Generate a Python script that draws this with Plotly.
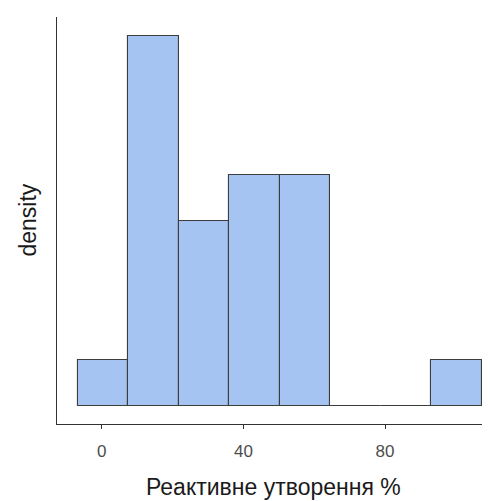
import plotly.graph_objects as go

# Histogram bins
bin_left_edges = [-6.86, 7.42, 21.7, 35.98, 50.26, 64.54, 78.82, 93.1]
bin_width = 14.28
counts = [1, 8, 4, 5, 5, 0, 0, 1]
x_tick_values = [0, 40, 80]
x_tick_labels = ["0", "40", "80"]
x_title = "Реактивне утворення %"
y_title = "density"

n = sum(counts)
centers = [e + bin_width / 2 for e in bin_left_edges]
density = [c / (n * bin_width) for c in counts]
d1 = 1 / (n * bin_width)

fig = go.Figure()
fig.add_trace(go.Bar(
    x=centers,
    y=density,
    width=[bin_width] * len(centers),
    marker=dict(color="#A6C4F1", line=dict(color="#3d3d3d", width=1.1)),
    hoverinfo="x+y",
))

# page body has an 8px margin, so the figure is sized/offset to compensate
fig.update_layout(
    width=482, height=493,
    margin=dict(l=49, r=0, t=9, b=77, autoexpand=False),
    plot_bgcolor="white", paper_bgcolor="white",
    showlegend=False,
    bargap=0,
    font=dict(family="Liberation Sans, Arial, sans-serif"),
)
fig.update_xaxes(
    range=[-12.65, 109.65],
    tickvals=x_tick_values, ticktext=x_tick_labels,
    ticks="outside", ticklen=4, tickwidth=1.3, tickcolor="#333333",
    tickfont=dict(size=17, color="#4d4d4d"), ticklabelstandoff=8,
    showline=True, linecolor="#333333", linewidth=1,
    showgrid=False, zeroline=False, automargin=False,
)
fig.update_yaxes(
    range=[-0.38 * d1, 8.4 * d1],
    showticklabels=False, ticks="",
    showline=True, linecolor="#333333", linewidth=1,
    showgrid=False, zeroline=False, automargin=False,
)
fig.add_annotation(
    text=x_title, xref="paper", yref="paper", x=0.5, y=0,
    yshift=-63, xanchor="center", yanchor="middle", showarrow=False,
    font=dict(size=23, color="#1a1a1a"),
)
fig.add_annotation(
    text=y_title, xref="paper", yref="paper", x=0, y=0.5,
    xshift=-30, xanchor="center", yanchor="middle", showarrow=False,
    textangle=-90, font=dict(size=23, color="#1a1a1a"),
)

fig.write_html("out.html")
